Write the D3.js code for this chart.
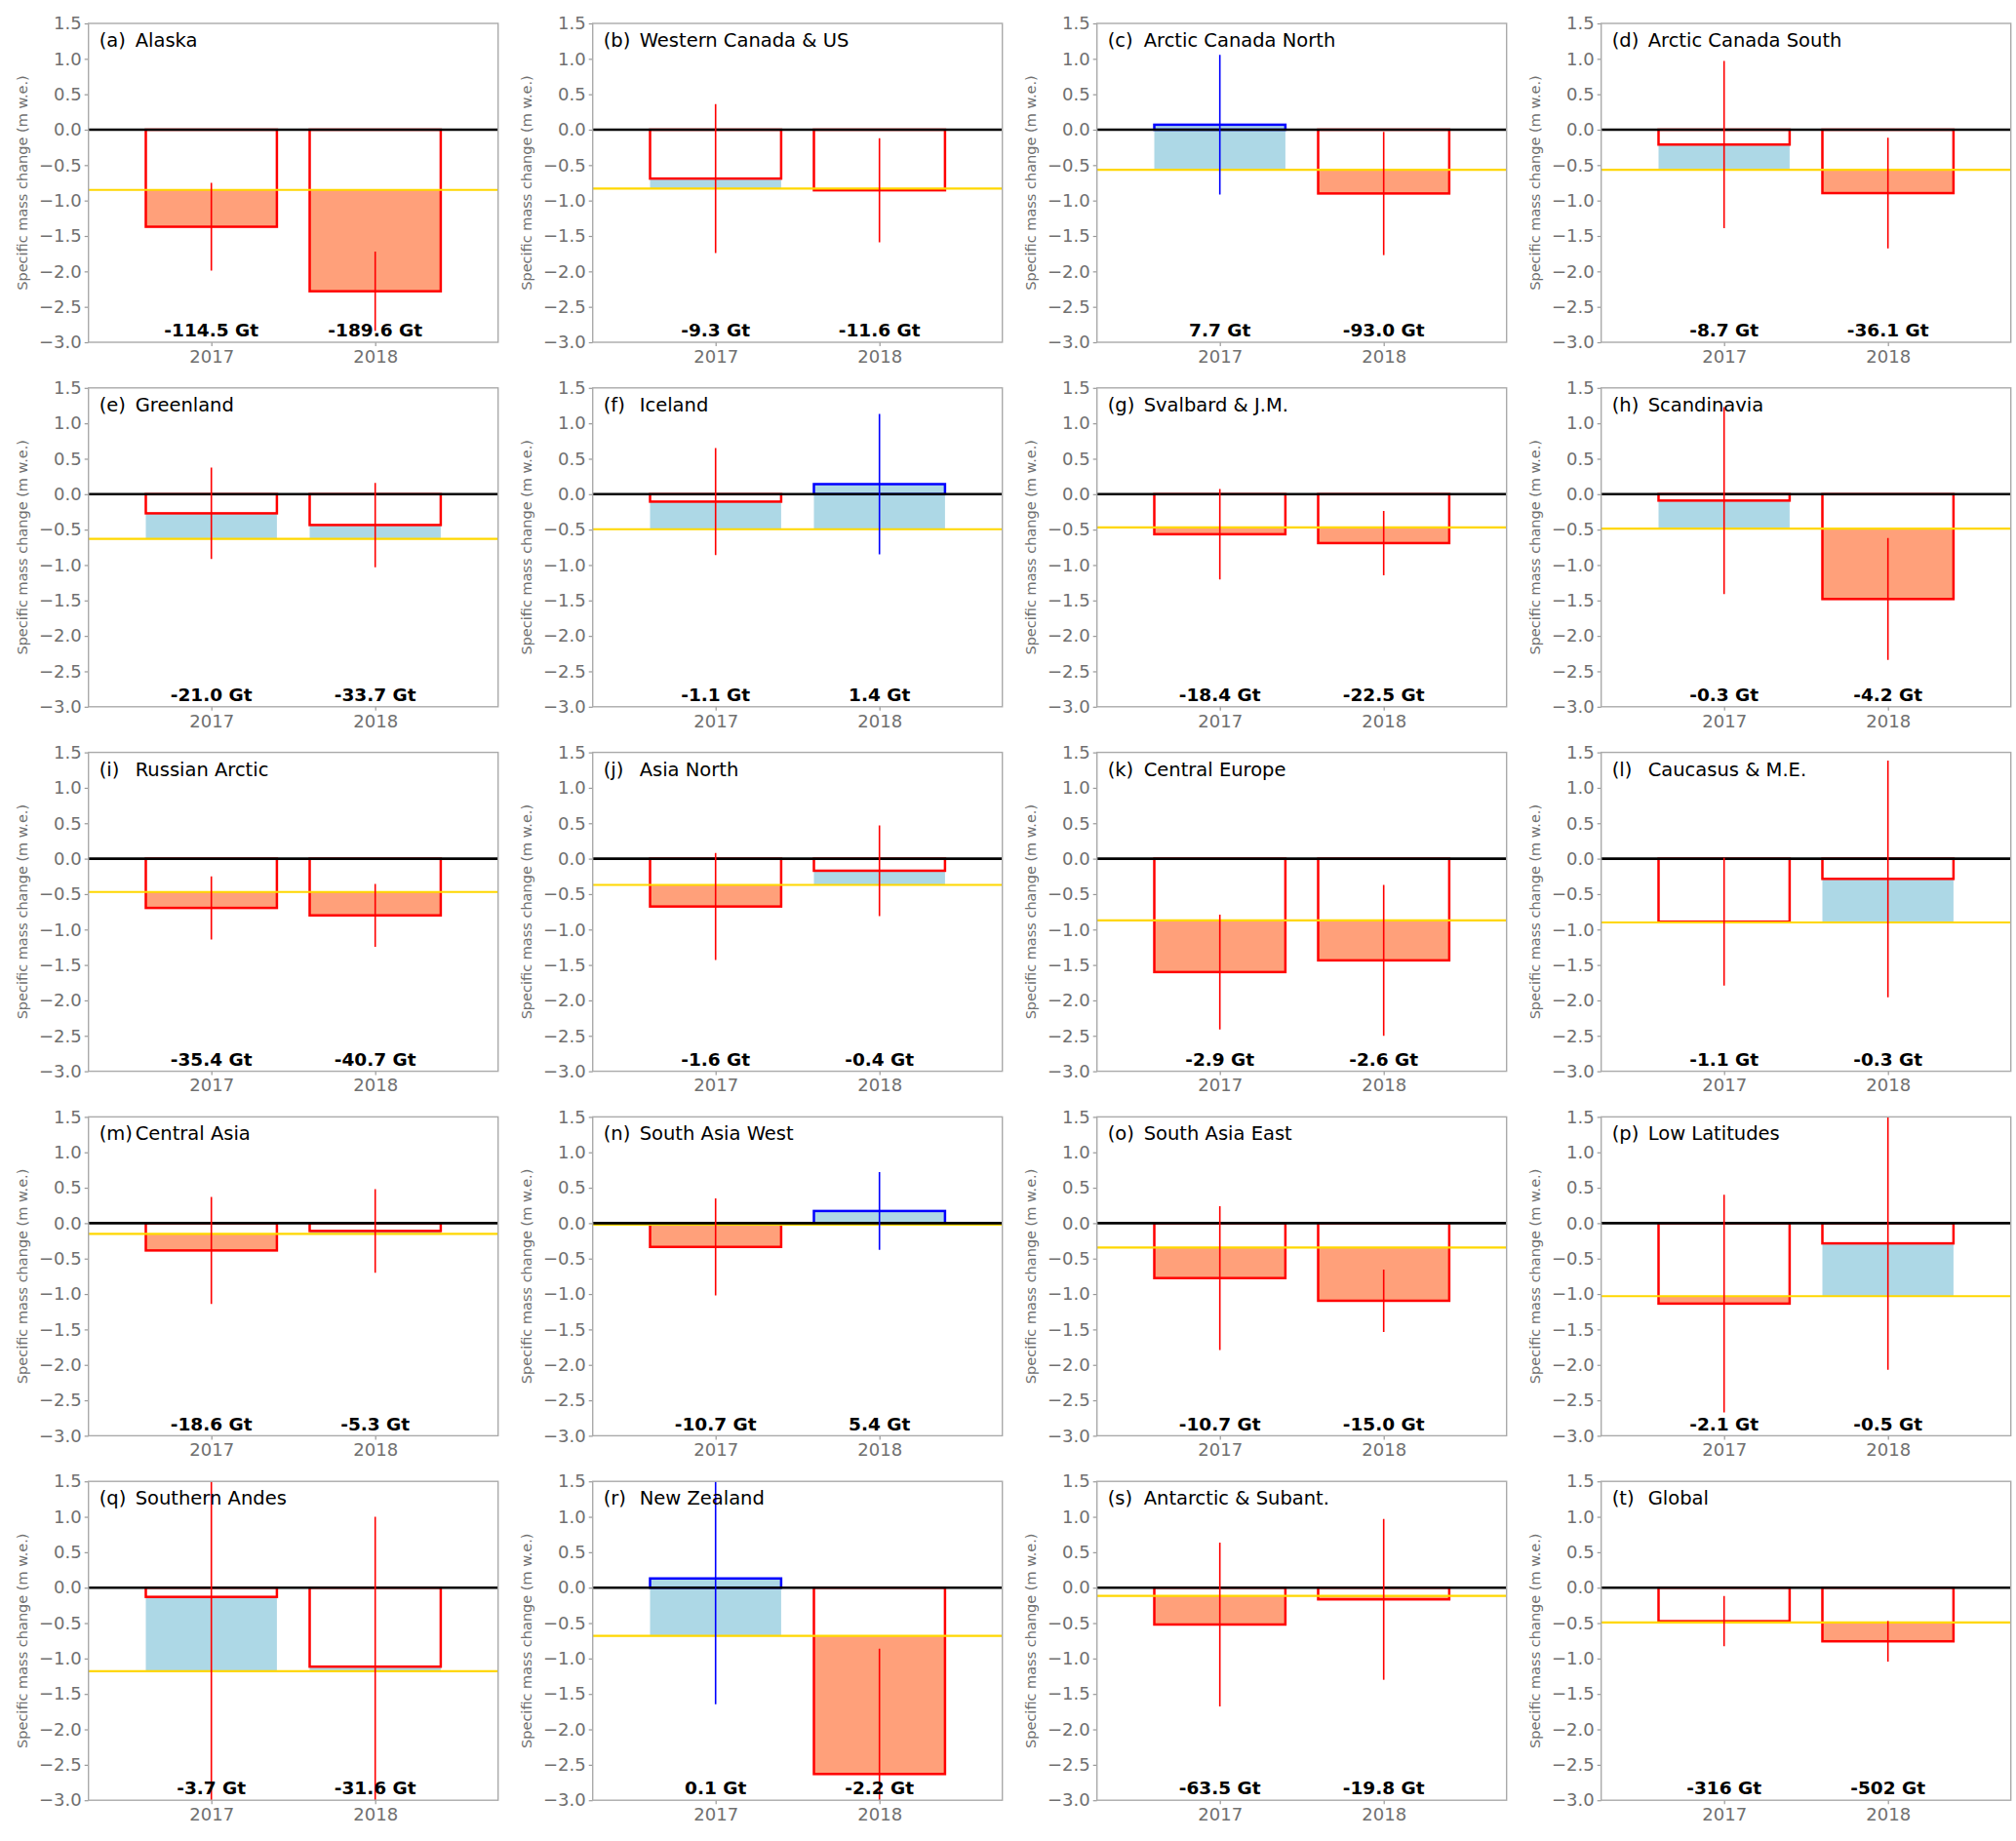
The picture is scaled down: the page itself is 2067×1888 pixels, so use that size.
<!DOCTYPE html>
<html>
<head>
<meta charset="utf-8">
<script src="https://cdn.jsdelivr.net/npm/d3@7"></script>
<style>
  body { margin: 0; background: #fff; }
  svg { font-family: "DejaVu Sans", sans-serif; }
</style>
</head>
<body>
<div id="chart"></div>
<script>
// panel letters and region names
const letters = ["a","b","c","d","e","f","g","h","i","j","k","l","m","n","o","p","q","r","s","t"];
const regions = ["Alaska", "Western Canada & US", "Arctic Canada North", "Arctic Canada South",
  "Greenland", "Iceland", "Svalbard & J.M.", "Scandinavia",
  "Russian Arctic", "Asia North", "Central Europe", "Caucasus & M.E.",
  "Central Asia", "South Asia West", "South Asia East", "Low Latitudes",
  "Southern Andes", "New Zealand", "Antarctic & Subant.", "Global"];
const years = [2017, 2018];

// specific mass change (m w.e.)
const mb2017 = [-1.37, -0.69, 0.07, -0.21, -0.27, -0.105, -0.565, -0.09, -0.695, -0.675,
  -1.60, -0.89, -0.385, -0.335, -0.775, -1.135, -0.13, 0.13, -0.52, -0.473];
const mb2018 = [-2.28, -0.855, -0.90, -0.895, -0.435, 0.142, -0.69, -1.48, -0.80, -0.17,
  -1.435, -0.285, -0.11, 0.172, -1.095, -0.285, -1.115, -2.63, -0.165, -0.757];
// uncertainty (half length of the error bar)
const err2017 = [0.62, 1.05, 0.985, 1.18, 0.645, 0.755, 0.637, 1.32, 0.445, 0.755,
  0.81, 0.90, 0.755, 0.685, 1.015, 1.535, 3.2, 1.775, 1.157, 0.355];
const err2018 = [0.56, 0.735, 0.87, 0.78, 0.595, 0.99, 0.455, 0.86, 0.445, 0.64,
  1.065, 1.67, 0.59, 0.55, 0.44, 1.785, 2.115, 1.77, 1.135, 0.287];
// reference (yellow) line
const refMean = [-0.85, -0.83, -0.565, -0.565, -0.63, -0.495, -0.468, -0.486, -0.47, -0.37,
  -0.87, -0.90, -0.15, -0.02, -0.345, -1.03, -1.18, -0.68, -0.115, -0.49];
// mass change labels (Gt)
const gt2017 = ["-114.5","-9.3","7.7","-8.7","-21.0","-1.1","-18.4","-0.3","-35.4","-1.6",
  "-2.9","-1.1","-18.6","-10.7","-10.7","-2.1","-3.7","0.1","-63.5","-316"];
const gt2018 = ["-189.6","-11.6","-93.0","-36.1","-33.7","1.4","-22.5","-4.2","-40.7","-0.4",
  "-2.6","-0.3","-5.3","5.4","-15.0","-0.5","-31.6","-2.2","-19.8","-502"];
const yTicks = [-3.0, -2.5, -2.0, -1.5, -1.0, -0.5, 0.0, 0.5, 1.0, 1.5];

const W = 2067, H = 1888;
const pw = 420, ph = 327;
const colX = i => 90.7 + i * 517;
const rowY = j => 24 + j * 373.8;

const svg = d3.select("#chart").append("svg")
  .attr("width", W).attr("height", H);

const x = d3.scaleLinear().domain([2016.25, 2018.75]).range([0, pw]);
const y = d3.scaleLinear().domain([-3, 1.5]).range([ph, 0]);
const barW = x(2016.25 + 0.8) - x(2016.25);
const fmt = d => d3.format(".1f")(d).replace("-", "\u2212");
const gray = "#707070";

regions.forEach((name, i) => {
  const g = svg.append("g")
    .attr("transform", `translate(${colX(i % 4)},${rowY(Math.floor(i / 4))})`);

  const clipId = "clip" + i;
  g.append("clipPath").attr("id", clipId)
    .append("rect").attr("width", pw).attr("height", ph);

  const bars = years.map((yr, k) => ({
    year: yr,
    v: k === 0 ? mb2017[i] : mb2018[i],
    e: k === 0 ? err2017[i] : err2018[i],
    gt: k === 0 ? gt2017[i] : gt2018[i]
  }));
  const ref = refMean[i];

  const plot = g.append("g").attr("clip-path", `url(#${clipId})`);

  // fill between reference line and value
  plot.selectAll("rect.fill").data(bars).enter().append("rect")
    .attr("class", "fill")
    .attr("x", d => x(d.year) - barW / 2)
    .attr("width", barW)
    .attr("y", d => y(Math.max(d.v, ref)))
    .attr("height", d => Math.abs(y(d.v) - y(ref)))
    .attr("fill", d => d.v < ref ? "#ffa07a" : "#add8e6");

  // bar outline from zero
  plot.selectAll("rect.edge").data(bars).enter().append("rect")
    .attr("class", "edge")
    .attr("x", d => x(d.year) - barW / 2)
    .attr("width", barW)
    .attr("y", d => y(Math.max(d.v, 0)))
    .attr("height", d => Math.abs(y(d.v) - y(0)))
    .attr("fill", "none")
    .attr("stroke", d => d.v < 0 ? "#ff0000" : "#0000ff")
    .attr("stroke-width", 2.5);

  // reference line
  plot.append("line")
    .attr("x1", 0).attr("x2", pw)
    .attr("y1", y(ref)).attr("y2", y(ref))
    .attr("stroke", "#ffd700").attr("stroke-width", 2.2);

  // zero line
  plot.append("line")
    .attr("x1", 0).attr("x2", pw)
    .attr("y1", y(0)).attr("y2", y(0))
    .attr("stroke", "#000").attr("stroke-width", 2.6);

  // error bars
  plot.selectAll("line.err").data(bars).enter().append("line")
    .attr("class", "err")
    .attr("x1", d => x(d.year)).attr("x2", d => x(d.year))
    .attr("y1", d => y(d.v + d.e)).attr("y2", d => y(d.v - d.e))
    .attr("stroke", d => d.v < 0 ? "#ff0000" : "#0000ff")
    .attr("stroke-width", 1.6);

  // mass labels
  g.selectAll("text.gt").data(bars).enter().append("text")
    .attr("class", "gt")
    .attr("x", d => x(d.year))
    .attr("y", y(-2.92))
    .attr("text-anchor", "middle")
    .attr("font-size", 18.5)
    .attr("font-weight", "bold")
    .attr("fill", "#000")
    .text(d => d.gt + " Gt");

  // axes
  const yAxis = g.append("g")
    .call(d3.axisLeft(y).tickValues(yTicks).tickFormat(fmt).tickSize(4).tickPadding(3));
  const xAxis = g.append("g")
    .attr("transform", `translate(0,${ph})`)
    .call(d3.axisBottom(x).tickValues(years).tickFormat(d3.format("d")).tickSize(4).tickPadding(4));
  [yAxis, xAxis].forEach(a => {
    a.select(".domain").remove();
    a.selectAll("line").attr("stroke", "#999").attr("stroke-width", 1.2);
    a.selectAll("text").attr("fill", gray).attr("font-size", 18)
      .attr("font-family", "DejaVu Sans");
  });

  // frame
  g.append("rect")
    .attr("width", pw).attr("height", ph)
    .attr("fill", "none").attr("stroke", "#aaaaaa").attr("stroke-width", 1.4);

  // y label
  g.append("text")
    .attr("transform", `translate(-63,${ph / 2}) rotate(-90)`)
    .attr("text-anchor", "middle")
    .attr("font-size", 14.5)
    .attr("fill", gray)
    .text("Specific mass change (m w.e.)");

  // panel title
  g.append("text")
    .attr("x", 11).attr("y", 24)
    .attr("font-size", 19.5).attr("fill", "#000")
    .text(`(${letters[i]})`);
  g.append("text")
    .attr("x", 48).attr("y", 24)
    .attr("font-size", 19.5).attr("fill", "#000")
    .text(name);
});
</script>
</body>
</html>
